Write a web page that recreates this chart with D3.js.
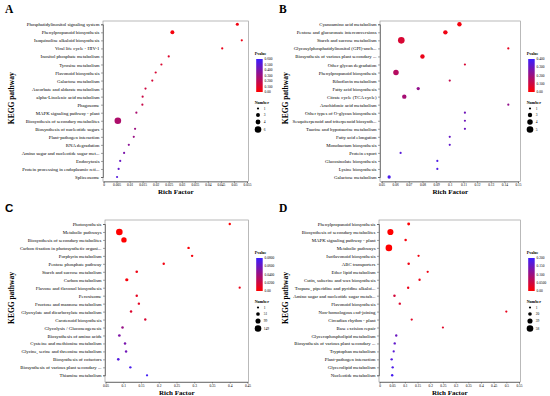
<!DOCTYPE html>
<html lang="en">
<head>
<meta charset="UTF-8">
<title>KEGG enrichment bubble charts</title>
<script src="https://d3js.org/d3.v7.min.js"></script>
<style>
  body { margin: 0; background: #fff; }
  svg text { font-family: "Liberation Serif", "DejaVu Serif", serif; fill: #000; }
</style>
</head>
<body>
<svg id="chart" width="550" height="396"></svg>
<script>
// ---- Panel A data ----
const aCategories = ["Phosphatidylinositol signaling system", "Phenylpropanoid biosynthesis", "Isoquinoline alkaloid biosynthesis",
  "Viral life cycle - HIV-1", "Inositol phosphate metabolism", "Tyrosine metabolism", "Flavonoid biosynthesis",
  "Galactose metabolism", "Ascorbate and aldarate metabolism", "alpha-Linolenic acid metabolism", "Phagosome",
  "MAPK signaling pathway - plant", "Biosynthesis of secondary metabolites", "Biosynthesis of nucleotide sugars",
  "Plant-pathogen interaction", "RNA degradation", "Amino sugar and nucleotide sugar met...", "Endocytosis",
  "Protein processing in endoplasmic reti...", "Spliceosome"];
const aRich = [0.0513, 0.0264, 0.0530, 0.0455, 0.0250, 0.0222, 0.0200, 0.0187, 0.0161, 0.0150, 0.0149,
  0.0126, 0.0055, 0.0121, 0.0116, 0.0097, 0.0079, 0.0064, 0.0058, 0.0052];
const aNumber = [2, 3, 1, 1, 1, 1, 1, 1, 1, 1, 1, 1, 6, 1, 1, 1, 1, 1, 1, 1];
const aPvalue = [0.04, 0.03, 0.05, 0.06, 0.10, 0.11, 0.12, 0.13, 0.15, 0.16, 0.17,
  0.26, 0.25, 0.30, 0.31, 0.35, 0.40, 0.46, 0.48, 0.52];
const aXTicks = [0, 0.005, 0.01, 0.015, 0.02, 0.025, 0.03, 0.035, 0.04, 0.045, 0.05, 0.055];
const aPTicks = [0, 0.1, 0.2, 0.3, 0.4, 0.5, 0.6];
const aPLabels = ["0.00", "0.100", "0.200", "0.300", "0.400", "0.500", "0.600"];
const aNumTicks = [1, 3, 4, 6];

// ---- Panel B data ----
const bCategories = ["Cyanoamino acid metabolism", "Pentose and glucuronate interconversions", "Starch and sucrose metabolism",
  "Glycosylphosphatidylinositol (GPI)-anch...", "Biosynthesis of various plant secondary ...", "Other glycan degradation",
  "Phenylpropanoid biosynthesis", "Riboflavin metabolism", "Fatty acid biosynthesis", "Citrate cycle (TCA cycle)",
  "Arachidonic acid metabolism", "Other types of O-glycan biosynthesis", "Sesquiterpenoid and triterpenoid biosynth...",
  "Taurine and hypotaurine metabolism", "Fatty acid elongation", "Monobactam biosynthesis", "Protein export",
  "Glucosinolate biosynthesis", "Lysine biosynthesis", "Galactose metabolism"];
const bRich = [0.1071, 0.0968, 0.0645, 0.1429, 0.0800, 0.1111, 0.0606, 0.1000, 0.0769, 0.0667,
  0.1429, 0.1111, 0.1111, 0.1111, 0.1000, 0.1000, 0.0640, 0.0909, 0.0909, 0.0556];
const bNumber = [3, 3, 5, 1, 3, 1, 4, 1, 2, 3, 1, 1, 1, 1, 1, 1, 1, 1, 1, 2];
const bPvalue = [0.02, 0.03, 0.08, 0.05, 0.04, 0.08, 0.15, 0.12, 0.22, 0.18,
  0.22, 0.29, 0.29, 0.30, 0.31, 0.32, 0.34, 0.36, 0.36, 0.37];
const bXTicks = [0.05, 0.06, 0.07, 0.08, 0.09, 0.1, 0.11, 0.12, 0.13, 0.14, 0.15];
const bPTicks = [0, 0.1, 0.2, 0.3, 0.4];
const bPLabels = ["0.00", "0.100", "0.200", "0.300", "0.400"];
const bNumTicks = [1, 3, 4, 5];

// ---- Panel C data ----
const cCategories = ["Photosynthesis", "Metabolic pathways", "Biosynthesis of secondary metabolites",
  "Carbon fixation in photosynthetic organi...", "Porphyrin metabolism", "Pentose phosphate pathway",
  "Starch and sucrose metabolism", "Carbon metabolism", "Flavone and flavonol biosynthesis", "Peroxisome",
  "Fructose and mannose metabolism", "Glyoxylate and dicarboxylate metabolism", "Carotenoid biosynthesis",
  "Glycolysis / Gluconeogenesis", "Biosynthesis of amino acids", "Cysteine and methionine metabolism",
  "Glycine, serine and threonine metabolism", "Biosynthesis of cofactors",
  "Biosynthesis of various plant secondary ...", "Thiamine metabolism"];
const cRich = [0.400, 0.089, 0.102, 0.284, 0.294, 0.214, 0.138, 0.110, 0.428, 0.138,
  0.144, 0.122, 0.162, 0.098, 0.089, 0.105, 0.108, 0.086, 0.120, 0.167];
const cNumber = [6, 149, 108, 10, 8, 9, 14, 35, 3, 10, 9, 11, 7, 13, 18, 11, 9, 14, 6, 3];
const cPvalue = [0.001, 0.0, 0.0, 0.002, 0.004, 0.005, 0.006, 0.003, 0.008, 0.010,
  0.011, 0.014, 0.016, 0.042, 0.052, 0.055, 0.058, 0.070, 0.074, 0.077];
const cXTicks = [0.05, 0.1, 0.15, 0.2, 0.25, 0.3, 0.35, 0.4, 0.45];
const cPTicks = [0, 0.02, 0.04, 0.06, 0.08];
const cPLabels = ["0.00", "0.0200", "0.0400", "0.0600", "0.0800"];
const cNumTicks = [1, 51, 99, 149];

// ---- Panel D data ----
const dCategories = ["Phenylpropanoid biosynthesis", "Biosynthesis of secondary metabolites", "MAPK signaling pathway - plant",
  "Metabolic pathways", "Isoflavonoid biosynthesis", "ABC transporters", "Ether lipid metabolism",
  "Cutin, suberine and wax biosynthesis", "Tropane, piperidine and pyridine alkaloi...",
  "Amino sugar and nucleotide sugar metab...", "Flavonoid biosynthesis", "Non-homologous end-joining",
  "Circadian rhythm - plant", "Base excision repair", "Glycerophospholipid metabolism",
  "Biosynthesis of various plant secondary ...", "Tryptophan metabolism", "Plant-pathogen interaction",
  "Glycerolipid metabolism", "Nucleotide metabolism"];
const dRich = [0.115, 0.043, 0.103, 0.037, 0.154, 0.115, 0.190, 0.158, 0.113, 0.059,
  0.080, 0.500, 0.127, 0.250, 0.066, 0.060, 0.056, 0.048, 0.052, 0.050];
const dNumber = [10, 52, 5, 58, 2, 5, 2, 3, 3, 5, 4, 1, 2, 1, 3, 3, 2, 4, 3, 4];
const dPvalue = [0.002, 0.0, 0.008, 0.0, 0.012, 0.015, 0.014, 0.018, 0.02, 0.045,
  0.035, 0.022, 0.03, 0.03, 0.150, 0.160, 0.168, 0.175, 0.182, 0.188];
const dXTicks = [0, 0.05, 0.1, 0.15, 0.2, 0.25, 0.3, 0.35, 0.4, 0.45, 0.5, 0.55];
const dPTicks = [0, 0.05, 0.1, 0.15, 0.2];
const dPLabels = ["0.00", "0.0500", "0.100", "0.150", "0.200"];
const dNumTicks = [1, 20, 39, 58];

const svg = d3.select("#chart");
const RED = "#ff0000", BLUE = "#3a1eff";

function drawPanel(p) {
  const g = svg.append("g");
  const x = d3.scaleLinear().domain([p.xTicks[0], p.xTicks[p.xTicks.length - 1]]).range(p.xRange);
  const y = d3.scalePoint().domain(p.categories).range(p.yRange);
  const color = d3.scaleLinear().domain([0, p.pTicks[p.pTicks.length - 1]]).range([RED, BLUE]).interpolate(d3.interpolateRgb);
  const r = d3.scaleLinear().domain([1, p.numTicks[p.numTicks.length - 1]]).range([1.1, 3.3]);

  // panel letter
  g.append("text").attr("x", p.letter[1]).attr("y", p.letter[2])
    .style("font-size", "11.5px").style("font-weight", "bold")
    .style("font-family", p.letter[3] || null)
    .text(p.letter[0]);

  // frame
  g.append("rect").attr("x", p.frame[0]).attr("y", p.frame[2])
    .attr("width", p.frame[1] - p.frame[0]).attr("height", p.frame[3] - p.frame[2])
    .attr("fill", "none").attr("stroke", "#8a8a8a").attr("stroke-width", 0.6);

  // y axis
  const yAxis = g.append("g").attr("transform", `translate(${p.frame[0]},0)`)
    .call(d3.axisLeft(y).tickSize(2).tickPadding(1.5));
  yAxis.select(".domain").attr("stroke", "#444").attr("stroke-width", 0.6);
  yAxis.selectAll(".tick line").attr("stroke", "#444").attr("stroke-width", 0.5);
  yAxis.selectAll("text").style("font-size", "4.8px").style("font-family", "Liberation Serif");

  // x axis
  const xAxis = g.append("g").attr("transform", `translate(0,${p.frame[3]})`)
    .call(d3.axisBottom(x).tickValues(p.xTicks).tickFormat(d => String(+d.toFixed(3))).tickSize(1.5).tickPadding(1));
  xAxis.select(".domain").attr("stroke", "#444").attr("stroke-width", 0.6);
  xAxis.selectAll(".tick line").attr("stroke", "#444").attr("stroke-width", 0.5);
  xAxis.selectAll("text").style("font-size", "3.5px").style("font-family", "Liberation Serif");

  // axis titles
  g.append("text").attr("x", (p.frame[0] + p.frame[1]) / 2).attr("y", p.frame[3] + 12.5)
    .attr("text-anchor", "middle").style("font-size", "7px").style("font-weight", "bold").text("Rich Factor");
  g.append("text").attr("transform", `translate(${p.yLabelX},${(p.frame[2] + p.frame[3]) / 2 - 3}) rotate(-90)`)
    .attr("text-anchor", "middle").style("font-size", "7.5px").style("font-weight", "bold").text("KEGG pathway");

  // bubbles
  const rows = p.categories.map((c, i) => ({ c, rich: p.rich[i], n: p.number[i], pv: p.pvalue[i] }));
  g.append("g").selectAll("circle").data(rows).enter().append("circle")
    .attr("cx", d => x(d.rich)).attr("cy", d => y(d.c)).attr("r", d => r(d.n))
    .attr("fill", d => color(d.pv));

  // Pvalue colour bar
  const lx = p.frame[1] + 7.7, top = p.frame[2] + 38, bh = 33, bw = 6.5;
  const gid = "grad" + p.letter[0];
  const grad = svg.append("defs").append("linearGradient").attr("id", gid)
    .attr("x1", 0).attr("y1", 1).attr("x2", 0).attr("y2", 0);
  grad.append("stop").attr("offset", 0).attr("stop-color", RED);
  grad.append("stop").attr("offset", 1).attr("stop-color", BLUE);
  g.append("text").attr("x", lx - 1.5).attr("y", top - 4).style("font-size", "4px").style("font-weight", "bold").text("Pvalue");
  g.append("rect").attr("x", lx).attr("y", top).attr("width", bw).attr("height", bh).attr("fill", `url(#${gid})`);
  const py = d3.scaleLinear().domain([0, p.pTicks[p.pTicks.length - 1]]).range([top + bh, top]);
  g.append("g").selectAll("text").data(p.pTicks).enter().append("text")
    .attr("x", lx + bw + 1.8).attr("y", d => py(d) + 1.2).style("font-size", "3.5px")
    .text((d, i) => p.pLabels[i]);

  // Number legend
  const ny = p.frame[2] + 83;
  g.append("text").attr("x", lx - 1.5).attr("y", ny).style("font-size", "4px").style("font-weight", "bold").text("Number");
  const offs = [4.5, 11, 18, 25.5];
  g.append("g").selectAll("circle").data(p.numTicks).enter().append("circle")
    .attr("cx", lx + 1.8).attr("cy", (d, i) => ny + offs[i]).attr("r", d => r(d)).attr("fill", "#000");
  g.append("g").selectAll("text").data(p.numTicks).enter().append("text")
    .attr("x", lx + 7.5).attr("y", (d, i) => ny + offs[i] + 1.2).style("font-size", "3.5px").text(d => d);
}

drawPanel({ letter: ["A", 5, 13], categories: aCategories, rich: aRich, number: aNumber, pvalue: aPvalue,
  xTicks: aXTicks, pTicks: aPTicks, pLabels: aPLabels, numTicks: aNumTicks,
  frame: [103, 248.5, 21, 181.5], xRange: [103.5, 247], yRange: [24.3, 177], yLabelX: 14 });
drawPanel({ letter: ["B", 279, 13], categories: bCategories, rich: bRich, number: bNumber, pvalue: bPvalue,
  xTicks: bXTicks, pTicks: bPTicks, pLabels: bPLabels, numTicks: bNumTicks,
  frame: [380, 520.5, 21, 181.5], xRange: [381.5, 518], yRange: [24.3, 177], yLabelX: 288 });
drawPanel({ letter: ["C", 5, 212, "Liberation Sans"], categories: cCategories, rich: cRich, number: cNumber, pvalue: cPvalue,
  xTicks: cXTicks, pTicks: cPTicks, pLabels: cPLabels, numTicks: cNumTicks,
  frame: [105, 248.5, 220, 382], xRange: [105.5, 247.5], yRange: [224, 375.3], yLabelX: 14 });
drawPanel({ letter: ["D", 279, 212], categories: dCategories, rich: dRich, number: dNumber, pvalue: dPvalue,
  xTicks: dXTicks, pTicks: dPTicks, pLabels: dPLabels, numTicks: dNumTicks,
  frame: [379, 520.5, 220, 382], xRange: [379.5, 519], yRange: [224, 375.3], yLabelX: 288 });
</script>
</body>
</html>
